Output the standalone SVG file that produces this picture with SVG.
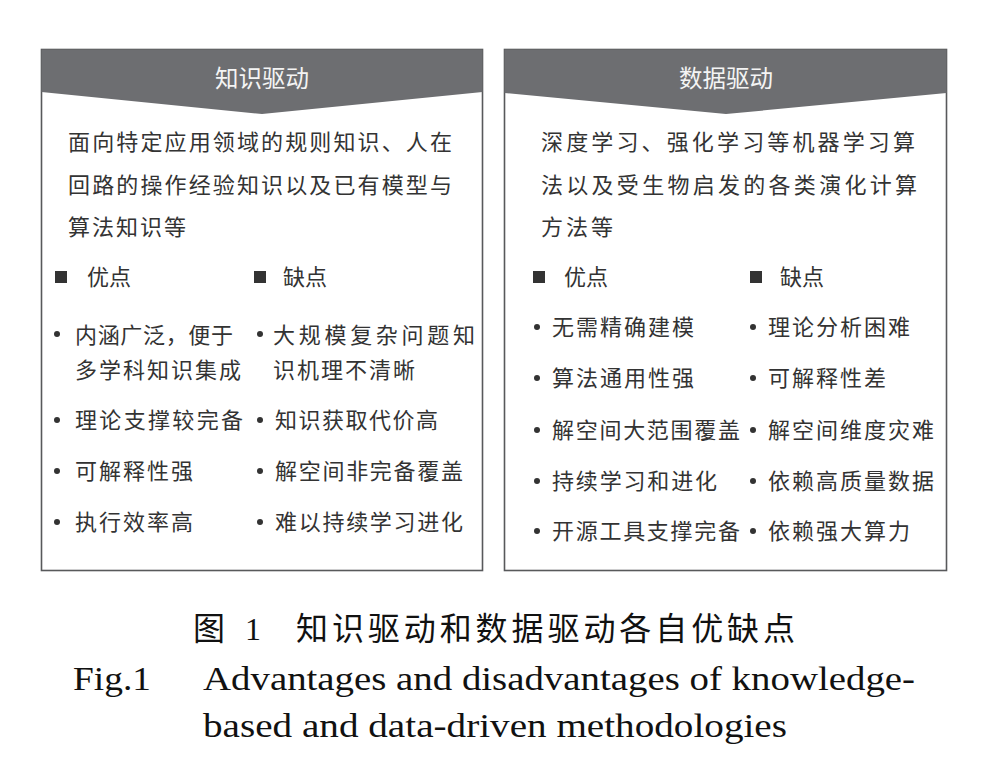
<svg xmlns="http://www.w3.org/2000/svg" width="993" height="771" viewBox="0 0 993 771">
<style>
.box{fill:#fff;stroke:#58595b;stroke-width:1.6}
.hdr{fill:#6d6e71}
.ttl{font-family:"Noto Sans CJK SC",sans-serif;font-size:23.5px;fill:#f4f4f4;text-anchor:middle}
.t{font-family:"Noto Sans CJK SC",sans-serif;font-size:22px;fill:#333}
.sq{fill:#333}
.dot{fill:#333}
.cn{font-family:"Liberation Serif","Noto Sans CJK SC",serif;font-size:32px;fill:#111}
.en{font-family:"Liberation Serif",serif;font-size:34px;fill:#111}
</style>
<rect width="993" height="771" fill="#fff"/>
<g id="knowledge">
<rect class="box" x="41.5" y="49.5" width="441" height="521"/>
<polygon class="hdr" points="41.5,49.5 482.5,49.5 482.5,92 262,114 41.5,92"/>
<text class="ttl" x="262" y="87">知识驱动</text>
<text class="t" x="68" y="150" textLength="384" lengthAdjust="spacing">面向特定应用领域的规则知识、人在</text>
<text class="t" x="68" y="193" textLength="384" lengthAdjust="spacing">回路的操作经验知识以及已有模型与</text>
<text class="t" x="68" y="235" textLength="118" lengthAdjust="spacing">算法知识等</text>
<rect class="sq" x="55" y="271" width="12" height="12"/>
<text class="t" x="87" y="285">优点</text>
<rect class="sq" x="254" y="271" width="12" height="12"/>
<text class="t" x="283" y="285">缺点</text>
<circle class="dot" cx="57" cy="334" r="3"/>
<text class="t" x="75" y="343" textLength="158" lengthAdjust="spacing">内涵广泛，便于</text>
<text class="t" x="75" y="378" textLength="166" lengthAdjust="spacing">多学科知识集成</text>
<circle class="dot" cx="57" cy="420" r="3"/>
<text class="t" x="75" y="428" textLength="168" lengthAdjust="spacing">理论支撑较完备</text>
<circle class="dot" cx="57" cy="471" r="3"/>
<text class="t" x="75" y="479" textLength="118" lengthAdjust="spacing">可解释性强</text>
<circle class="dot" cx="57" cy="522" r="3"/>
<text class="t" x="75" y="530" textLength="118" lengthAdjust="spacing">执行效率高</text>
<circle class="dot" cx="260" cy="334" r="3"/>
<text class="t" x="273" y="343" textLength="202" lengthAdjust="spacing">大规模复杂问题知</text>
<text class="t" x="273" y="378" textLength="142" lengthAdjust="spacing">识机理不清晰</text>
<circle class="dot" cx="260" cy="420" r="3"/>
<text class="t" x="275" y="428" textLength="163" lengthAdjust="spacing">知识获取代价高</text>
<circle class="dot" cx="260" cy="471" r="3"/>
<text class="t" x="275" y="479" textLength="188" lengthAdjust="spacing">解空间非完备覆盖</text>
<circle class="dot" cx="260" cy="522" r="3"/>
<text class="t" x="275" y="530" textLength="188" lengthAdjust="spacing">难以持续学习进化</text>
</g>
<g id="data">
<rect class="box" x="504.5" y="49.5" width="442" height="521"/>
<polygon class="hdr" points="504.5,49.5 946.5,49.5 946.5,93 726,114 504.5,93"/>
<text class="ttl" x="726" y="87">数据驱动</text>
<text class="t" x="541" y="150" textLength="374" lengthAdjust="spacing">深度学习、强化学习等机器学习算</text>
<text class="t" x="541" y="193" textLength="376" lengthAdjust="spacing">法以及受生物启发的各类演化计算</text>
<text class="t" x="541" y="235" textLength="72" lengthAdjust="spacing">方法等</text>
<rect class="sq" x="533" y="271" width="12" height="12"/>
<text class="t" x="564" y="285">优点</text>
<rect class="sq" x="750" y="271" width="12" height="12"/>
<text class="t" x="780" y="285">缺点</text>
<circle class="dot" cx="537" cy="327" r="3"/>
<text class="t" x="552" y="335" textLength="142" lengthAdjust="spacing">无需精确建模</text>
<circle class="dot" cx="537" cy="378" r="3"/>
<text class="t" x="552" y="386" textLength="142" lengthAdjust="spacing">算法通用性强</text>
<circle class="dot" cx="537" cy="430" r="3"/>
<text class="t" x="552" y="438" textLength="188" lengthAdjust="spacing">解空间大范围覆盖</text>
<circle class="dot" cx="537" cy="481" r="3"/>
<text class="t" x="552" y="489" textLength="165" lengthAdjust="spacing">持续学习和进化</text>
<circle class="dot" cx="537" cy="531" r="3"/>
<text class="t" x="552" y="539" textLength="188" lengthAdjust="spacing">开源工具支撑完备</text>
<circle class="dot" cx="753" cy="327" r="3"/>
<text class="t" x="768" y="335" textLength="142" lengthAdjust="spacing">理论分析困难</text>
<circle class="dot" cx="753" cy="378" r="3"/>
<text class="t" x="768" y="386" textLength="118" lengthAdjust="spacing">可解释性差</text>
<circle class="dot" cx="753" cy="430" r="3"/>
<text class="t" x="768" y="438" textLength="166" lengthAdjust="spacing">解空间维度灾难</text>
<circle class="dot" cx="753" cy="481" r="3"/>
<text class="t" x="768" y="489" textLength="166" lengthAdjust="spacing">依赖高质量数据</text>
<circle class="dot" cx="753" cy="531" r="3"/>
<text class="t" x="768" y="539" textLength="142" lengthAdjust="spacing">依赖强大算力</text>
</g>
<g id="caption">
<text class="cn" x="193" y="640">图</text>
<text class="cn" x="245" y="640">1</text>
<text class="cn" x="296" y="640" textLength="499" lengthAdjust="spacing">知识驱动和数据驱动各自优缺点</text>
<text class="en" x="73" y="690" textLength="78" lengthAdjust="spacingAndGlyphs">Fig.1</text>
<text class="en" x="203" y="690" textLength="712" lengthAdjust="spacingAndGlyphs">Advantages and disadvantages of knowledge-</text>
<text class="en" x="203" y="737" textLength="584" lengthAdjust="spacingAndGlyphs">based and data-driven methodologies</text>
</g>
</svg>
